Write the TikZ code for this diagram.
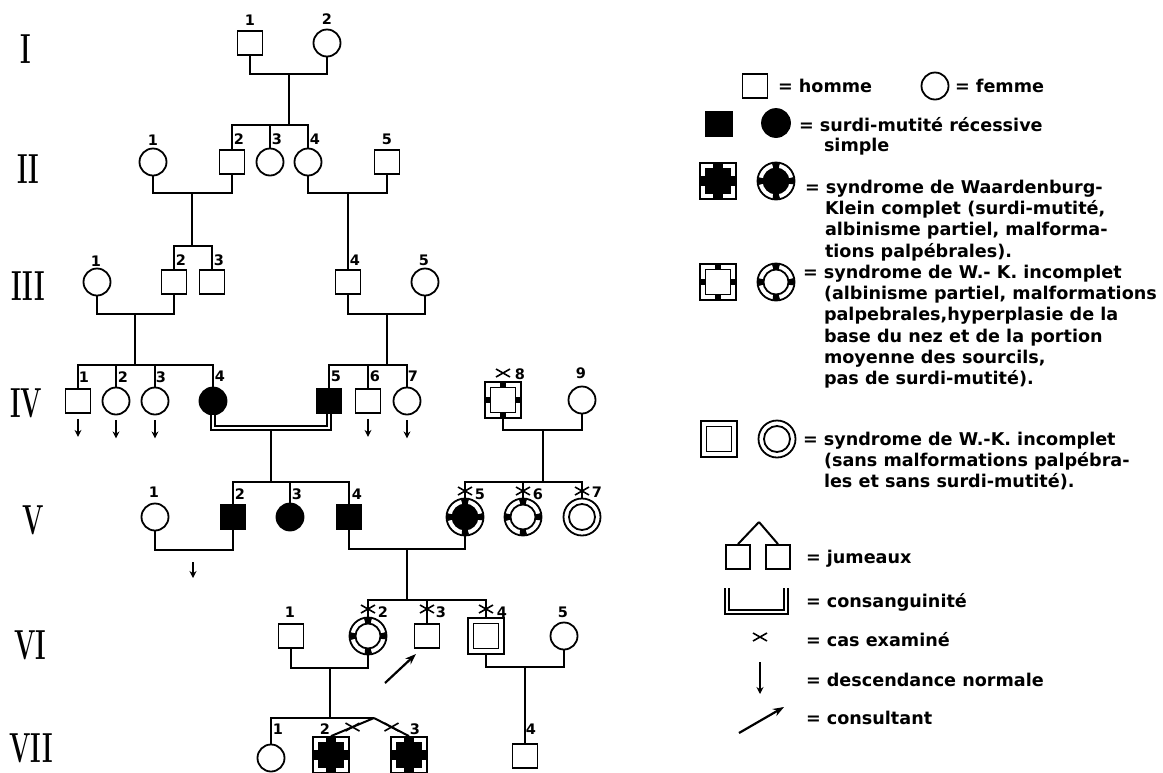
\documentclass[tikz,border=0pt]{standalone}
\usepackage{fontspec}
\usetikzlibrary{arrows.meta,calc}
\newfontfamily\lgfont{DejaVu Sans}
\newcommand\WKsq[5]{%
  \node[draw, rectangle, minimum size=36pt, inner sep=0pt, line width=1.8pt] (#1) at (#2,#3) {};
  \draw[line width=1.8pt, fill=#4] (#2-12.5,#3-12.5) rectangle (#2+12.5,#3+12.5);
  \fill (#2-#5/2,#3-18) rectangle (#2+#5/2,#3-12.5);
  \fill (#2-#5/2,#3+18) rectangle (#2+#5/2,#3+12.5);
  \fill (#2-18,#3-#5/2) rectangle (#2-12.5,#3+#5/2);
  \fill (#2+18,#3-#5/2) rectangle (#2+12.5,#3+#5/2);
}
\newcommand\WKci[4]{%
  \node[draw, circle, minimum size=37pt, inner sep=0pt, line width=1.8pt] (#1) at (#2,#3) {};
  \draw[line width=1.8pt, fill=#4] (#1.center) circle[radius=12.5pt];
  \draw[line width=5pt, dash pattern=on 6.5pt off 17.85pt, dash phase=3.25pt] (#1.center) circle[radius=15.5pt];
}
\newcommand\DBsq[3]{%
  \node[draw, rectangle, minimum size=36pt, inner sep=0pt, line width=1.8pt] (#1) at (#2,#3) {};
  \draw[line width=1.8pt] (#2-12.5,#3-12.5) rectangle (#2+12.5,#3+12.5);
}
\newcommand\DBci[3]{%
  \node[draw, circle, minimum size=37pt, inner sep=0pt, line width=1.8pt] (#1) at (#2,#3) {};
  \draw[line width=1.8pt] (#1.center) circle[radius=13pt];
}
\newcommand\exmark[2]{\draw[line width=1.6pt] (#1-7,#2-4) -- (#1+7,#2+4) (#1-7,#2+4) -- (#1+7,#2-4);}
\begin{document}
\begin{tikzpicture}[x=1pt,y=-1pt, line width=2pt,
  sq/.style={draw, rectangle, minimum width=25pt, minimum height=24pt, inner sep=0pt, line width=1.8pt},
  ci/.style={draw, circle, minimum size=27pt, inner sep=0pt, line width=1.8pt},
  aff/.style={fill=black},
  num/.style={font=\lgfont\bfseries\fontsize{14.5}{14.5}\selectfont, inner sep=0pt},
  gen/.style={font=\bfseries\fontsize{42}{42}\selectfont, inner sep=0pt},
  lg/.style={font=\lgfont\bfseries\fontsize{17.6}{17.6}\selectfont, anchor=base west, inner sep=0pt},
  dn/.style={-{Stealth[length=7pt,width=7pt]}, line width=1.6pt},
  consult/.style={-{Stealth[length=11pt,width=8pt]}, line width=2.2pt},
  consang/.style={double, double distance=2pt, line width=1.6pt},
]
\useasboundingbox (0,0) rectangle (1163,772);
\clip (0,0) rectangle (1163,772);

% generation numerals
\node[gen] (gI)   at (26,49)  {\scalebox{0.6}[1]{I}};
\node[gen] (gII)  at (28,169) {\scalebox{0.6}[1]{II}};
\node[gen] (gIII) at (28,286) {\scalebox{0.6}[1]{III}};
\node[gen] (gIV)  at (26,403) {\scalebox{0.6}[1]{IV}};
\node[gen] (gV)   at (33,520) {\scalebox{0.6}[1]{V}};
\node[gen] (gVI)  at (30,645) {\scalebox{0.6}[1]{VI}};
\node[gen] (gVII) at (31,748) {\scalebox{0.6}[1]{VII}};

% ---------- Generation I
\node[sq] (I1) at (250,43) {};
\node[ci] (I2) at (327,43) {};
\node[num] (nI1) at (250,20) {1};
\node[num] (nI2) at (327,19) {2};
\coordinate (mI) at (289,74);
\coordinate (sII) at (289,125);
\draw (I1.south) |- (mI) -| (I2.south);
\draw (mI) -- (sII);

% ---------- Generation II
\node[ci] (II1) at (153,162) {};
\node[sq] (II2) at (232,162) {};
\node[ci] (II3) at (270,162) {};
\node[ci] (II4) at (308,162) {};
\node[sq] (II5) at (387,162) {};
\node[num] (nII1) at (153,140) {1};
\node[num] (nII2) at (239,139) {2};
\node[num] (nII3) at (277,139) {3};
\node[num] (nII4) at (315,139) {4};
\node[num] (nII5) at (387,139) {5};
\draw (II2.north) |- (sII) -| (II4.north);
\draw (II3.north) -- (II3.north |- sII);
\coordinate (mII12) at (192,193);
\coordinate (mII45) at (348,193);
\coordinate (sIII) at (192,246);
\draw (II1.south) |- (mII12) -| (II2.south);
\draw (II4.south) |- (mII45) -| (II5.south);
\draw (mII12) -- (sIII);

% ---------- Generation III
\node[ci] (III1) at (97,282) {};
\node[sq] (III2) at (174,282) {};
\node[sq] (III3) at (212,282) {};
\node[sq] (III4) at (348,282) {};
\node[ci] (III5) at (425,282) {};
\node[num] (nIII1) at (96,261) {1};
\node[num] (nIII2) at (181,260) {2};
\node[num] (nIII3) at (219,260) {3};
\node[num] (nIII4) at (355,260) {4};
\node[num] (nIII5) at (424,260) {5};
\draw (III2.north) |- (sIII) -| (III3.north);
\draw (mII45) -- (III4.north);
\coordinate (mIII12) at (135,314);
\coordinate (mIII45) at (387,314);
\coordinate (sIVa) at (135,365);
\coordinate (sIVb) at (387,365);
\draw (III1.south) |- (mIII12) -| (III2.south);
\draw (III4.south) |- (mIII45) -| (III5.south);
\draw (mIII12) -- (sIVa);
\draw (mIII45) -- (sIVb);

% ---------- Generation IV
\node[sq] (IV1) at (78,401) {};
\node[ci] (IV2) at (116,401) {};
\node[ci] (IV3) at (155,401) {};
\node[ci,aff] (IV4) at (213,401) {};
\node[sq,aff] (IV5) at (329,401) {};
\node[sq] (IV6) at (368,401) {};
\node[ci] (IV7) at (407,401) {};
\WKsq{IV8}{503}{400}{white}{6}
\node[ci] (IV9) at (582,400) {};
\node[num] (nIV1) at (84,377) {1};
\node[num] (nIV2) at (123,377) {2};
\node[num] (nIV3) at (161,377) {3};
\node[num] (nIV4) at (220,376) {4};
\node[num] (nIV5) at (336,376) {5};
\node[num] (nIV6) at (375,376) {6};
\node[num] (nIV7) at (413,376) {7};
\node[num] (nIV8) at (520,374) {8};
\node[num] (nIV9) at (581,373) {9};
\exmark{503}{373}
\draw (IV1.north) |- (sIVa) -| (IV4.north);
\draw (IV2.north) -- (IV2.north |- sIVa);
\draw (IV3.north) -- (IV3.north |- sIVa);
\draw (IV5.north) |- (sIVb) -| (IV7.north);
\draw (IV6.north) -- (IV6.north |- sIVb);
\foreach \p in {IV1,IV2,IV3,IV6,IV7}{
  \draw[dn] ([yshift=-5pt]\p.south) -- ([yshift=-23pt]\p.south);
}
\coordinate (mIV45) at (271,428);
\coordinate (mIV45b) at (271,431);
\draw[consang] (IV4.south) |- (mIV45) -| (IV5.south);
\coordinate (mIV89) at (543,430);
\coordinate (sVa) at (271,482);
\coordinate (sVb) at (543,482);
\draw (IV8.south) |- (mIV89) -| (IV9.south);
\draw (mIV45b) -- (sVa);
\draw (mIV89) -- (sVb);

% ---------- Generation V
\node[ci] (V1) at (155,517) {};
\node[sq,aff] (V2) at (233,517) {};
\node[ci,aff] (V3) at (290,517) {};
\node[sq,aff] (V4) at (349,517) {};
\WKci{V5}{465}{517}{black}
\WKci{V6}{523}{517}{white}
\DBci{V7}{582}{517}
\node[num] (nV1) at (154,492) {1};
\node[num] (nV2) at (240,494) {2};
\node[num] (nV3) at (297,494) {3};
\node[num] (nV4) at (357,494) {4};
\node[num] (nV5) at (480,494) {5};
\node[num] (nV6) at (538,494) {6};
\node[num] (nV7) at (597,492) {7};
\draw (V2.north) |- (sVa) -| (V4.north);
\draw (V3.north) -- (V3.north |- sVa);
\draw (V5.north) |- (sVb) -| (V7.north);
\draw (V6.north) -- (V6.north |- sVb);
\exmark{465}{491}
\exmark{523}{491}
\exmark{582}{491}
\coordinate (mV12) at (194,550);
\coordinate (aV12) at (193,562);
\coordinate (aV12e) at (193,578);
\draw (V1.south) |- (mV12) -| (V2.south);
\draw[dn] (aV12) -- (aV12e);
\coordinate (mV45) at (407,549);
\coordinate (sVI) at (407,600);
\draw (V4.south) |- (mV45) -| (V5.south);
\draw (mV45) -- (sVI);

% ---------- Generation VI
\node[sq] (VI1) at (291,636) {};
\WKci{VI2}{368}{636}{white}
\node[sq] (VI3) at (427,636) {};
\DBsq{VI4}{486}{636}
\node[ci] (VI5) at (564,636) {};
\node[num] (nVI1) at (290,612) {1};
\node[num] (nVI2) at (383,612) {2};
\node[num] (nVI3) at (441,612) {3};
\node[num] (nVI4) at (502,612) {4};
\node[num] (nVI5) at (563,612) {5};
\draw (VI2.north) |- (sVI) -| (VI4.north);
\draw (VI3.north) -- (VI3.north |- sVI);
\exmark{368}{609}
\exmark{427}{609}
\exmark{486}{609}
\coordinate (mVI12) at (330,668);
\coordinate (mVI45) at (525,667);
\coordinate (sVII) at (330,718);
\draw (VI1.south) |- (mVI12) -| (VI2.south);
\draw (VI4.south) |- (mVI45) -| (VI5.south);
\draw (mVI12) -- (sVII);
\coordinate (ca1) at (385,683);
\coordinate (ca2) at (416,654);
\draw[consult] (ca1) -- (ca2);

% ---------- Generation VII
\node[ci] (VII1) at (271,758) {};
\WKsq{VII2}{331}{755}{black}{10}
\WKsq{VII3}{409}{755}{black}{10}
\node[sq] (VII4) at (525,756) {};
\node[num] (nVII1) at (278,729) {1};
\node[num] (nVII2) at (325,729) {2};
\node[num] (nVII3) at (415,729) {3};
\node[num] (nVII4) at (531,729) {4};
\coordinate (tw) at (374,718);
\draw (VII1.north) |- (tw);
\draw (tw) -- (VII2.north);
\draw (tw) -- (VII3.north);
\draw (mVI45) -- (VII4.north);
\path ($(tw)!0.5!(VII2.north)$) coordinate (tm1) ($(tw)!0.5!(VII3.north)$) coordinate (tm2);
\draw[line width=1.6pt] ([shift={(-7,-4)}]tm1) -- ([shift={(7,4)}]tm1) ([shift={(-7,4)}]tm1) -- ([shift={(7,-4)}]tm1);
\draw[line width=1.6pt] ([shift={(-7,-4)}]tm2) -- ([shift={(7,4)}]tm2) ([shift={(-7,4)}]tm2) -- ([shift={(7,-4)}]tm2);

% ---------- Legend
\node[sq] (Lm) at (755,86) {};
\node[lg] (tLm) at (777,92) {= homme};
\node[ci] (Lf) at (935,86) {};
\node[lg] (tLf) at (954,92) {= femme};

\node[sq,aff,minimum width=27pt] (La1) at (719,124) {};
\node[ci,aff,minimum size=28pt] (La2) at (776,123) {};
\node[lg] (tLa1) at (798,131) {= surdi-mutité récessive};
\node[lg] (tLa2) at (823,151) {simple};

\WKsq{Lc1}{718}{181}{black}{10}
\WKci{Lc2}{776}{181}{black}
\node[lg] (tLc1) at (804,193) {= syndrome de Waardenburg-};
\node[lg] (tLc2) at (824,214) {Klein complet (surdi-mutité,};
\node[lg] (tLc3) at (824,235) {albinisme partiel, malforma-};
\node[lg] (tLc4) at (824,257) {tions palpébrales).};

\WKsq{Li1}{718}{282}{white}{6}
\WKci{Li2}{776}{282}{white}
\node[lg] (tLi1) at (802,278) {= syndrome de W.- K. incomplet};
\node[lg] (tLi2) at (823,299) {(albinisme partiel, malformations};
\node[lg] (tLi3) at (823,320) {palpebrales,hyperplasie de la};
\node[lg] (tLi4) at (823,342) {base du nez et de la portion};
\node[lg] (tLi5) at (823,363) {moyenne des sourcils,};
\node[lg] (tLi6) at (823,384) {pas de surdi-mutité).};

\DBsq{Ld1}{719}{439}
\DBci{Ld2}{777}{439}
\node[lg] (tLd1) at (802,445) {= syndrome de W.-K. incomplet};
\node[lg] (tLd2) at (823,466) {(sans malformations palpébra-};
\node[lg] (tLd3) at (823,487) {les et sans surdi-mutité).};

\node[sq,minimum width=24pt] (Lt1) at (738,557) {};
\node[sq,minimum width=24pt] (Lt2) at (778,557) {};
\coordinate (Ltw) at (759,522);
\draw (Ltw) -- (Lt1.north);
\draw (Ltw) -- (Lt2.north);
\node[lg] (tLt) at (805,563) {= jumeaux};

\coordinate (Lk1) at (727,588);
\coordinate (Lk2) at (757,612);
\coordinate (Lk3) at (786,588);
\draw[consang] (Lk1) |- (Lk2) -| (Lk3);
\node[lg] (tLk) at (805,607) {= consanguinité};

\exmark{760}{637}
\node[lg] (tLx) at (805,646) {= cas examiné};

\coordinate (Ld1a) at (760,662);
\coordinate (Ld1b) at (760,694);
\draw[dn] (Ld1a) -- (Ld1b);
\node[lg] (tLdn) at (805,686) {= descendance normale};

\coordinate (Lca1) at (739,733);
\coordinate (Lca2) at (784,707);
\draw[consult] (Lca1) -- (Lca2);
\node[lg] (tLca) at (805,724) {= consultant};
\end{tikzpicture}
\end{document}
